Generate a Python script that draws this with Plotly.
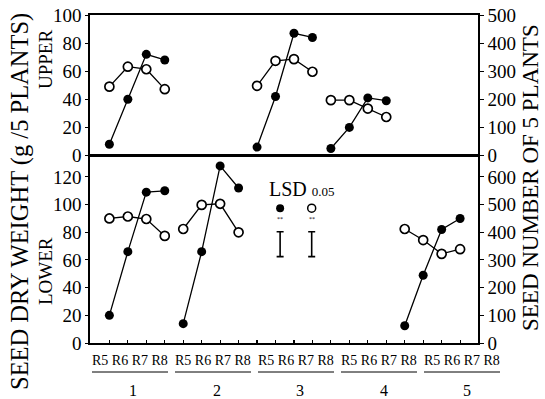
import plotly.graph_objects as go

# ---------------- data ----------------
stages = ["R5", "R6", "R7", "R8"]
groups = ["1", "2", "3", "4", "5"]

# seed dry weight (g / 5 plants) – filled circles, left axis
upper_dry_weight = [[8, 40, 72, 68], None, [6, 42, 87, 84], [5, 20, 41, 39], None]
lower_dry_weight = [[20, 66, 109, 110], [14, 66, 128, 112], None, None, [12.5, 49, 82, 90]]

# seed number of 5 plants – open circles, right axis
upper_seed_number = [[245, 316, 307, 236], None, [248, 337, 343, 298], [197, 197, 167, 137], None]
lower_seed_number = [[450, 457, 448, 387], [412, 499, 503, 400], None, None, [412, 372, 322, 339]]

lsd_dry_weight = 18
lsd_seed_number = 90

# ---------------- figure ----------------
FONT = "Liberation Serif, Times New Roman, serif"
fig = go.Figure()

filled = dict(symbol="circle", size=9, color="black")
opened = dict(symbol="circle", size=9, color="white", line=dict(color="black", width=1.7))
line = dict(color="black", width=1.3)


def add_series(values, xa, ya, marker):
    for g, vals in enumerate(values):
        if vals is None:
            continue
        xs = [4 * g + i for i in range(len(stages))]
        fig.add_trace(go.Scatter(x=xs, y=vals, xaxis=xa, yaxis=ya, mode="lines+markers",
                                 line=line, marker=marker, showlegend=False,
                                 hoverinfo="skip"))


add_series(upper_dry_weight, "x2", "y3", filled)
add_series(upper_seed_number, "x2", "y4", opened)
add_series(lower_dry_weight, "x", "y", filled)
add_series(lower_seed_number, "x", "y2", opened)

# LSD legend markers & bars
lsd_x_w, lsd_x_n = 9.25, 10.96
fig.add_trace(go.Scatter(x=[lsd_x_w], y=[97.4], xaxis="x", yaxis="y", mode="markers",
                         marker=dict(symbol="circle", size=8, color="black"), showlegend=False))
fig.add_trace(go.Scatter(x=[lsd_x_n], y=[97.4], xaxis="x", yaxis="y", mode="markers",
                         marker=dict(symbol="circle", size=8, color="white",
                                     line=dict(color="black", width=1.5)), showlegend=False))
fig.add_trace(go.Scatter(x=[lsd_x_w], y=[71.4], xaxis="x", yaxis="y", mode="markers",
                         marker=dict(size=1, color="rgba(0,0,0,0)"), showlegend=False,
                         error_y=dict(type="constant", value=lsd_dry_weight / 2, color="black",
                                      thickness=1.6, width=3.5)))
fig.add_trace(go.Scatter(x=[lsd_x_n], y=[71.4 * 5], xaxis="x", yaxis="y2", mode="markers",
                         marker=dict(size=1, color="rgba(0,0,0,0)"), showlegend=False,
                         error_y=dict(type="constant", value=lsd_seed_number / 2, color="black",
                                      thickness=1.6, width=3.5)))

# ---------------- layout ----------------
L, R, T, B = 90, 67, 15, 56
W, H = 545, 399
pw, ph = W - L - R, H - T - B
split = (343 - 155.5) / ph


def px_x(p):
    return (p - L) / pw


def px_y(p):
    return (H - B - p) / ph


tickfont = dict(family=FONT, size=19, color="black")
axcommon = dict(showgrid=False, zeroline=False, showline=True, linecolor="black",
                linewidth=1.6, automargin=False)

fig.update_layout(
    width=W, height=H, autosize=False,
    margin=dict(l=L, r=R, t=T, b=B, pad=0, autoexpand=False),
    paper_bgcolor="white", plot_bgcolor="white",
    showlegend=False,
    font=dict(family=FONT, color="black"),
    xaxis=dict(domain=[0, 1], range=[-1.05, 19.97], anchor="y", mirror=True,
               tickvals=list(range(20)), ticks="inside", ticklen=3, tickwidth=1.2,
               tickcolor="black", showticklabels=False, **axcommon),
    xaxis2=dict(domain=[0, 1], range=[-1.05, 19.97], anchor="y3", mirror=True,
                showticklabels=False, ticks="", **axcommon),
    yaxis=dict(domain=[0, split], range=[0, 135.5], anchor="x",
               tickvals=[0, 20, 40, 60, 80, 100, 120], ticks="outside", ticklen=3,
               tickcolor="black", tickfont=tickfont, **axcommon),
    yaxis2=dict(overlaying="y", side="right", range=[0, 677.5], anchor="x",
                tickvals=[0, 100, 200, 300, 400, 500, 600], ticks="outside", ticklen=4,
                tickcolor="black", tickfont=tickfont, **axcommon),
    yaxis3=dict(domain=[split, 1], range=[0, 100], anchor="x2",
                tickvals=[0, 20, 40, 60, 80, 100], ticks="outside", ticklen=3,
                tickcolor="black", tickfont=tickfont, **axcommon),
    yaxis4=dict(overlaying="y3", side="right", range=[0, 500], anchor="x2",
                tickvals=[0, 100, 200, 300, 400, 500], ticks="outside", ticklen=4,
                tickcolor="black", tickfont=tickfont, **axcommon),
)

ann = []
ann.append(dict(text="SEED DRY WEIGHT (g /5 PLANTS)", x=px_x(20), y=px_y(202), textangle=-90,
                font=dict(family=FONT, size=24.5)))
ann.append(dict(text="UPPER", x=px_x(45), y=px_y(60), textangle=-90,
                font=dict(family=FONT, size=19)))
ann.append(dict(text="LOWER", x=px_x(45), y=px_y(271), textangle=-90,
                font=dict(family=FONT, size=19)))
ann.append(dict(text="SEED NUMBER OF 5 PLANTS", x=px_x(530), y=px_y(178), textangle=-90,
                font=dict(family=FONT, size=23)))
ann.append(dict(text="LSD <span style='font-size:13px'>0.05</span>", x=px_x(267), y=px_y(189),
                xanchor="left", font=dict(family=FONT, size=20)))
for xp in (280, 312):
    ann.append(dict(text="**", x=px_x(xp), y=px_y(219), font=dict(family=FONT, size=6)))

shapes = []
for k, g in enumerate(groups):
    cx = 130 + 83 * k
    ann.append(dict(text=" ".join(stages), x=px_x(cx), y=px_y(360),
                    font=dict(family=FONT, size=14)))
    ann.append(dict(text=g, x=px_x(133 + 83.5 * k), y=px_y(391),
                    font=dict(family=FONT, size=16)))
    shapes.append(dict(type="line", xref="paper", yref="paper",
                       x0=px_x(cx - 38), x1=px_x(cx + 38), y0=px_y(372), y1=px_y(372),
                       line=dict(color="black", width=1)))

for a in ann:
    a.update(xref="paper", yref="paper", showarrow=False)
    a.setdefault("xanchor", "center")
    a.setdefault("yanchor", "middle")

fig.update_layout(annotations=ann, shapes=shapes)
fig.write_html("out.html", config={"displayModeBar": False, "staticPlot": True},
               post_script="document.body.style.margin='0';document.body.style.overflow='hidden';")
